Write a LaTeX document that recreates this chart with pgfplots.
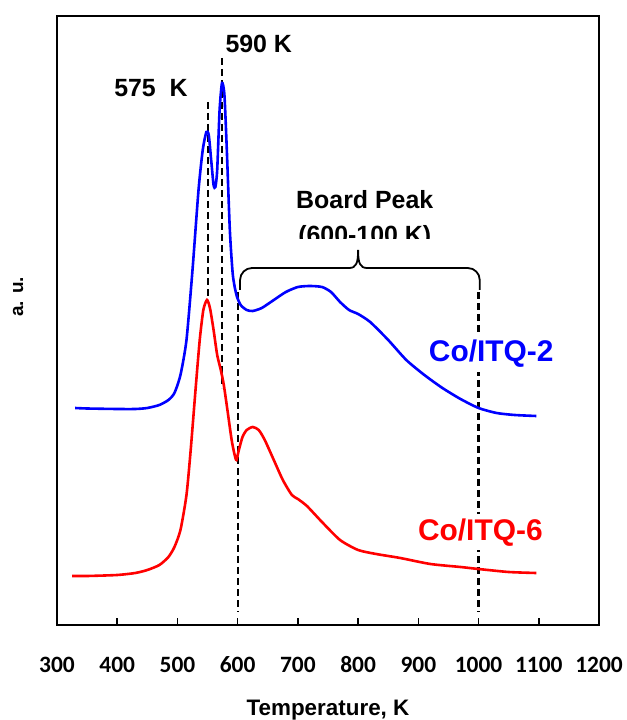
\documentclass[border=0pt]{standalone}
\usepackage{fontspec}
\setmainfont{Liberation Sans}
\newfontfamily\tickfont{Carlito}
\usepackage{pgfplots}
\pgfplotsset{compat=1.18}
\pgfplotstableread{
T y
330 217
350 216.5
400 216
430 216
450 217
470 220
485 225
495 232
505 250
515 285
525 355
535 435
542 475
548 493
552 490
556 465
560 440
563 438
566 455
570 515
574 542
578 530
582 475
587 395
592 350
598 330
605 320
615 315
625 314
640 317
660 325
680 333
700 338
720 339
740 338
755 333
770 323
785 315
800 311
820 303
850 285
880 265
910 250
940 237
970 226
1000 217
1030 212
1060 210
1096 209
}\itqtwo
\pgfplotstableread{
T y
325 49
350 49
400 50
430 52
450 55
470 60
485 68
495 78
505 95
515 130
522 175
530 235
537 285
543 315
549 325
554 317
560 295
566 270
572 255
577 240
583 215
590 185
595 170
598 165
602 175
608 188
615 195
625 198
635 195
645 185
660 165
675 145
690 130
700 126
715 119
740 103
770 85
800 75
830 71
870 67
920 61
970 58
1000 56
1050 53
1096 52
}\itqsix
\begin{document}
\begin{tikzpicture}
\begin{axis}[
  scale only axis, width=542bp, height=609bp,
  xmin=300, xmax=1200, ymin=0, ymax=609,
  xtick={300,400,...,1200}, ytick=\empty,
  xtick pos=bottom, tick align=inside, major tick length=7bp,
  axis line style={line width=2.4bp},
  tick style={line width=1.6bp, black},
  /pgf/number format/assume math mode=true,
  /pgf/number format/set thousands separator={},
  xticklabel style={font=\tickfont\bfseries\fontsize{23.5}{23.5}\selectfont, anchor=center, yshift=-40bp},
  xlabel={Temperature, K},
  every axis x label/.style={at={(rel axis cs:0.5,0)}, anchor=center, yshift=-85bp, font=\bfseries\fontsize{22.5}{22.5}\selectfont},
  ylabel={a. u.},
  every axis y label/.style={at={(rel axis cs:0,0.539)}, xshift=-39bp, rotate=90, anchor=center, font=\bfseries\fontsize{19}{19}\selectfont},
  clip=false,
]
% dashed guide lines
\draw[black, line width=2.3bp, dash pattern=on 7bp off 4bp] (axis cs:551,523) -- (axis cs:551,322);
\draw[black, line width=2.3bp, dash pattern=on 7bp off 4bp] (axis cs:574,567) -- (axis cs:574,237);
\draw[black, line width=2.3bp, dash pattern=on 7bp off 4bp] (axis cs:600,333) -- (axis cs:600,13);
\draw[black, line width=2.3bp, dash pattern=on 7bp off 4bp] (axis cs:1000,333) -- (axis cs:1000,13);

\addplot[blue, line width=2.6bp, smooth, tension=0.4] table[x=T, y=y] {\itqtwo};
\addplot[red, line width=2.6bp, smooth, tension=0.4] table[x=T, y=y] {\itqsix};

% labels
\node[anchor=base, font=\bfseries\fontsize{25}{25}\selectfont] at (axis cs:456,528) {575~~K};
\node[anchor=base, font=\bfseries\fontsize{25}{25}\selectfont] at (axis cs:635,572) {590 K};
\node[anchor=base, font=\bfseries\fontsize{25}{25}\selectfont] at (axis cs:811,416) {Board Peak};
\node[anchor=base, font=\bfseries\fontsize{25}{25}\selectfont] at (axis cs:811,381) {(600-100 K)};
\fill[white] (axis cs:680,376) rectangle (axis cs:945,385.5);
% brace
\draw[black, line width=1.8bp, rounded corners=12bp] (axis cs:604,335) -- (axis cs:604,357) -- (axis cs:786,357);
\draw[black, line width=1.8bp] (axis cs:785,357) .. controls (axis cs:797,357) and (axis cs:800,362) .. (axis cs:800,375)
   .. controls (axis cs:800,362) and (axis cs:803,357) .. (axis cs:815,357);
\draw[black, line width=1.8bp, rounded corners=12bp] (axis cs:814,357) -- (axis cs:1002,357) -- (axis cs:1002,335);

\node[anchor=base, fill=white, inner sep=4bp, text=blue, font=\bfseries\fontsize{30}{30}\selectfont] at (axis cs:1021,263) {Co/ITQ-2};
\node[anchor=base, fill=white, inner sep=4bp, text=red, font=\bfseries\fontsize{30}{30}\selectfont] at (axis cs:1003,85) {Co/ITQ-6};
\end{axis}
\pgfresetboundingbox
\path (current axis.south west) ++(-57bp,-95bp) rectangle ([shift={(28bp,16bp)}]current axis.north east);
\end{tikzpicture}
\end{document}
